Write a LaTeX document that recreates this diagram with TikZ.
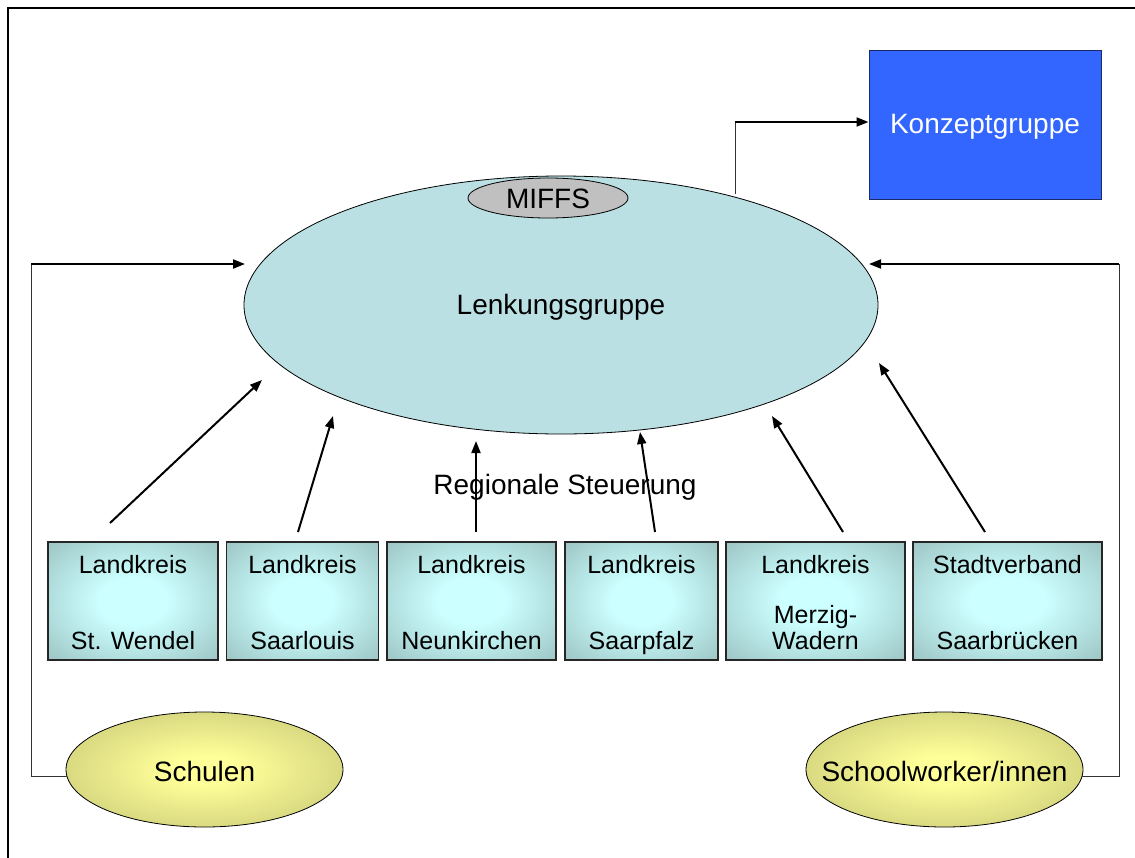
\documentclass[tikz,border=0pt]{standalone}
\usepackage{fontspec}
\setmainfont{Liberation Sans}
\usetikzlibrary{shapes.geometric,arrows.meta}
\definecolor{lenkfill}{HTML}{BAE0E3}
\definecolor{miffsfill}{HTML}{C0C0C0}
\definecolor{konzfill}{HTML}{3366FF}
\definecolor{konzborder}{HTML}{1A2A66}
\definecolor{boxin}{HTML}{CCFFFF}
\definecolor{boxout}{HTML}{86A9A8}
\definecolor{ovin}{HTML}{FFFF99}
\definecolor{ovout}{HTML}{A8A862}
\pgfdeclareradialshading{boxshade}{\pgfpoint{0bp}{0bp}}{color(0bp)=(boxin); color(10bp)=(boxin); color(48bp)=(boxout); color(75bp)=(boxout)}
\pgfdeclareradialshading{ovalshade}{\pgfpoint{0bp}{0bp}}{color(0bp)=(ovin); color(6bp)=(ovin); color(50bp)=(ovout); color(75bp)=(ovout)}
\tikzset{
  bigtext/.style={font=\fontsize{28}{32}\selectfont},
  boxtext/.style={font=\fontsize{25}{27}\selectfont, anchor=base, inner sep=0pt},
  region/.style={draw=black!85, line width=1.3pt, shading=boxshade, inner sep=0pt, minimum height=118pt},
  oval/.style={ellipse, draw=black, line width=0.8pt, shading=ovalshade, minimum width=277pt, minimum height=115pt, inner sep=0pt},
  arr/.style={line width=2pt, -{Triangle[length=12pt,width=9pt]}},
  thinline/.style={line width=1pt, draw=black!80},
}
\begin{document}
\begin{tikzpicture}[x=1pt,y=-1pt]
\useasboundingbox (0,0) rectangle (1135,857);
% frame
\draw[line width=2pt] (8,858) -- (8,8) -- (1136,8);

% main nodes
\node[ellipse, draw=black, line width=0.8pt, fill=lenkfill, minimum width=634pt, minimum height=258pt, inner sep=0pt] (lenk) at (561,305) {};
\node[bigtext] (lenktext) at (561,307) {Lenkungsgruppe};
\node[ellipse, draw=black, line width=0.8pt, fill=miffsfill, minimum width=160pt, minimum height=40pt, inner sep=0pt] (miffs) at (548,198) {};
\node[bigtext] (miffstext) at (548,199) {MIFFS};
\node[rectangle, draw=konzborder, line width=1pt, fill=konzfill, minimum width=232pt, minimum height=149pt, inner sep=0pt] (konz) at (985,124.5) {};
\node[bigtext, text=white] (konztext) at (985,127) {Konzeptgruppe};

\node[bigtext] (regio) at (565,487) {Regionale Steuerung};

% regional boxes (y 542-660)
\node[region, minimum width=170pt] (b1) at (133,601) {};
\node[region, minimum width=152pt] (b2) at (302.5,601) {};
\node[region, minimum width=169pt] (b3) at (471.5,601) {};
\node[region, minimum width=153pt] (b4) at (641.5,601) {};
\node[region, minimum width=179pt] (b5) at (815.5,601) {};
\node[region, minimum width=189pt] (b6) at (1007.5,601) {};

\node[boxtext] (t1a) at (133,573) {Landkreis};
\node[boxtext] (t1b) at (133,649) {St. Wendel};
\node[boxtext] (t2a) at (302.5,573) {Landkreis};
\node[boxtext] (t2b) at (302.5,649) {Saarlouis};
\node[boxtext] (t3a) at (471.5,573) {Landkreis};
\node[boxtext] (t3b) at (471.5,649) {Neunkirchen};
\node[boxtext] (t4a) at (641.5,573) {Landkreis};
\node[boxtext] (t4b) at (641.5,649) {Saarpfalz};
\node[boxtext] (t5a) at (815.5,573) {Landkreis};
\node[boxtext] (t5b) at (815.5,623) {Merzig-};
\node[boxtext] (t5c) at (815.5,649) {Wadern};
\node[boxtext] (t6a) at (1007.5,573) {Stadtverband};
\node[boxtext] (t6b) at (1007.5,649) {Saarbrücken};

% bottom ovals
\node[oval] (schulen) at (204.5,769.5) {};
\node[bigtext] (schulentext) at (204.5,771) {Schulen};
\node[oval] (sw) at (944.5,769.5) {};
\node[bigtext] (swtext) at (944.5,771) {Schoolworker/innen};

% connector helper coordinates
\coordinate (cL) at (31,264);
\coordinate (cR) at (1119,264);
\coordinate (cT) at (735,122);
\coordinate (lenkTop) at (735,194);
\coordinate (lenkL) at (245,264);
\coordinate (lenkR) at (869,264);

\coordinate (s1) at (110,523); \coordinate (e1) at (262,380);
\coordinate (s2) at (298,532); \coordinate (e2) at (333,416);
\coordinate (s3) at (476,532); \coordinate (e3) at (476,441);
\coordinate (s4) at (655,532); \coordinate (e4) at (640,432);
\coordinate (s5) at (843,532); \coordinate (e5) at (772,416);
\coordinate (s6) at (985,532); \coordinate (e6) at (879,363);

% elbow connectors
\draw[thinline] (schulen.183) -| (cL);
\draw[arr] (cL) -- (lenkL);
\draw[thinline] (sw.-3) -| (cR);
\draw[arr] (cR) -- (lenkR);
\draw[thinline] (lenkTop) -- (cT);
\draw[arr] (cT) -- (konz.west |- cT);

% diagonal arrows
\draw[arr] (s1) -- (e1);
\draw[arr] (s2) -- (e2);
\draw[arr] (s3) -- (e3);
\draw[arr] (s4) -- (e4);
\draw[arr] (s5) -- (e5);
\draw[arr] (s6) -- (e6);
\end{tikzpicture}
\end{document}
